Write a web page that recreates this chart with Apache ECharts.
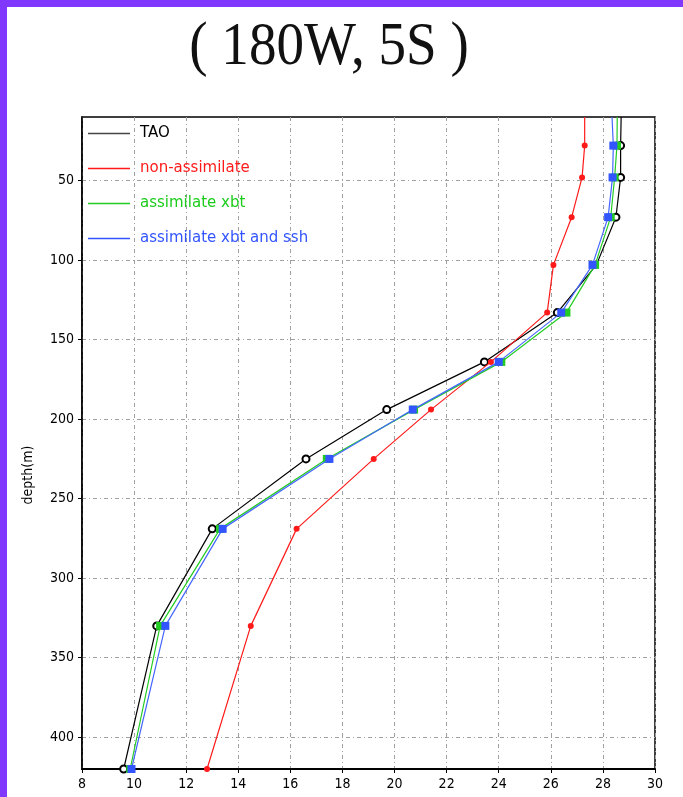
<!DOCTYPE html>
<html>
<head>
<meta charset="utf-8">
<script src="https://cdn.jsdelivr.net/npm/echarts@6/dist/echarts.min.js"></script>
<style>
html,body{margin:0;padding:0;background:#fff;}
#c{width:683px;height:797px;}
</style>
</head>
<body>
<div id="c"></div>
<script>
// depths (m) of the model levels drawn
var depths = [10, 28, 48, 73, 103, 133, 164, 194, 225, 269, 330, 420];
// temperatures (deg C) per series at those depths
var tao        = [28.7, 28.68, 28.68, 28.5, 27.75, 26.25, 23.45, 19.7, 16.6, 13.0, 10.87, 9.6];
var nonAssim   = [27.3, 27.3, 27.2, 26.8, 26.1, 25.86, 23.7, 21.4, 19.2, 16.24, 14.48, 12.8];
var assimXbt   = [28.55, 28.54, 28.45, 28.3, 27.7, 26.6, 24.1, 20.75, 17.4, 13.3, 11.0, 9.85];
var assimXbtSsh= [28.35, 28.4, 28.37, 28.2, 27.6, 26.4, 24.0, 20.7, 17.5, 13.4, 11.2, 9.9];
// which levels carry a marker
var markTao  = [0,1,1,1,0,1,1,1,1,1,1,1];
var markModel= [0,1,1,1,1,1,1,1,1,1,1,1];
var seriesNames = ['TAO', 'non-assimilate', 'assimilate xbt', 'assimilate xbt and ssh'];
var yTicks = [50, 100, 150, 200, 250, 300, 350, 400];
var titleText = '( 180W, 5S )';

function build(vals, marks) {
  return depths.map(function (d, i) {
    var o = { value: [vals[i], d] };
    if (!marks[i]) o.symbol = 'none';
    return o;
  });
}

var gridStyle = { color: '#a0a0a0', width: 1, type: [4, 3, 1, 3] };
var chart = echarts.init(document.getElementById('c'));
chart.setOption({
  animation: false,
  backgroundColor: '#fff',
  grid: { left: 82, right: 28, top: 117, bottom: 28, show: true, borderColor: '#000', borderWidth: 1.5 },
  xAxis: {
    type: 'value', min: 8, max: 30, interval: 2,
    axisLine: { show: true, lineStyle: { color: '#000', width: 2 } },
    axisTick: { show: true, length: 4, lineStyle: { color: '#000' } },
    axisLabel: { color: '#000', fontSize: 14, fontFamily: 'DejaVu Sans Condensed, sans-serif', margin: 8 },
    splitLine: { show: true, lineStyle: gridStyle }
  },
  yAxis: {
    type: 'value', inverse: true, min: 10, max: 420,
    axisLine: { show: true, onZero: false, lineStyle: { color: '#000', width: 1.5 } },
    axisTick: { show: true, length: 4, customValues: yTicks, lineStyle: { color: '#000' } },
    axisLabel: { color: '#000', fontSize: 14, fontFamily: 'DejaVu Sans Condensed, sans-serif', margin: 8, customValues: yTicks },
    splitLine: { show: true, lineStyle: gridStyle }
  },
  legend: {
    left: 88, top: 126, orient: 'vertical', itemGap: 20, padding: 0,
    itemWidth: 42, itemHeight: 1.5, icon: 'rect',
    itemStyle: { borderWidth: 0 },
    textStyle: { fontSize: 15, lineHeight: 14, fontFamily: 'DejaVu Sans, sans-serif', padding: [0, 0, 0, 5] },
    data: [
      { name: seriesNames[0], textStyle: { color: '#000' }, itemStyle: { color: '#444' } },
      { name: seriesNames[1], textStyle: { color: '#ff1a1a' } },
      { name: seriesNames[2], textStyle: { color: '#1ccc1c' } },
      { name: seriesNames[3], textStyle: { color: '#3355ff' } }
    ]
  },
  graphic: [
    { type: 'rect', shape: { x: 0, y: 0, width: 683, height: 7 }, style: { fill: '#8038ff' }, z: 100 },
    { type: 'rect', shape: { x: 0, y: 0, width: 7, height: 797 }, style: { fill: '#8038ff' }, z: 100 },
    { type: 'text', x: 329, y: 48, style: { text: titleText, fontFamily: 'Liberation Serif, DejaVu Serif, serif', fontSize: 58, fill: '#111', align: 'center', verticalAlign: 'middle' }, scaleX: 0.95, scaleY: 1.05 },
    { type: 'text', x: 28, y: 475, rotation: Math.PI / 2, style: { text: 'depth(m)', fontFamily: 'DejaVu Sans Condensed, sans-serif', fontSize: 14, fill: '#000', align: 'center', verticalAlign: 'middle' } }
  ],
  series: [
    { name: seriesNames[0], type: 'line', data: build(tao, markTao), color: '#000',
      symbol: 'emptyCircle', symbolSize: 7, lineStyle: { width: 1.2, color: '#000' },
      itemStyle: { color: '#000', borderWidth: 1.1 }, z: 3 },
    { name: seriesNames[1], type: 'line', data: build(nonAssim, markModel), color: '#ff1a1a',
      symbol: 'circle', symbolSize: 6, lineStyle: { width: 1.2, color: '#ff1a1a' },
      itemStyle: { color: '#ff1a1a' }, z: 4 },
    { name: seriesNames[2], type: 'line', data: build(assimXbt, markModel), color: '#22cc22',
      symbol: 'rect', symbolSize: 8, lineStyle: { width: 1.2, color: '#22cc22' },
      itemStyle: { color: '#22cc22' }, z: 5 },
    { name: seriesNames[3], type: 'line', data: build(assimXbtSsh, markModel), color: '#3355ff',
      symbol: 'rect', symbolSize: 8, lineStyle: { width: 1.2, color: '#4466ff' },
      itemStyle: { color: '#3355ff' }, z: 6 }
  ]
});
</script>
</body>
</html>
